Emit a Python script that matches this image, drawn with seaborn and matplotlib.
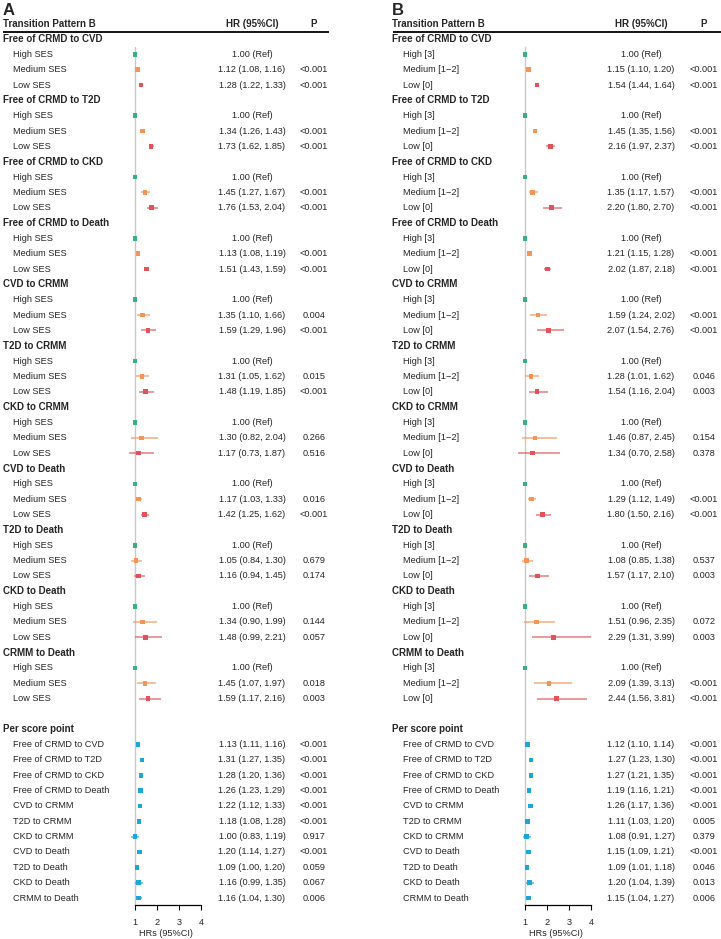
import numpy as np
import pandas as pd
import matplotlib
matplotlib.use("Agg")
import matplotlib.pyplot as plt
import matplotlib.transforms as mtransforms
import seaborn as sns

# ---- data -------------------------------------------------------------
transitions = ["Free of CRMD to CVD", "Free of CRMD to T2D", "Free of CRMD to CKD",
               "Free of CRMD to Death", "CVD to CRMM", "T2D to CRMM", "CKD to CRMM",
               "CVD to Death", "T2D to Death", "CKD to Death", "CRMM to Death"]

levels_a = ["High SES", "Medium SES", "Low SES"]
levels_b = ["High [3]", "Medium [1\u22122]", "Low [0]"]

# Panel A (SES)
a_med_hr = [1.12, 1.34, 1.45, 1.13, 1.35, 1.31, 1.30, 1.17, 1.05, 1.34, 1.45]
a_med_lo = [1.08, 1.26, 1.27, 1.08, 1.10, 1.05, 0.82, 1.03, 0.84, 0.90, 1.07]
a_med_hi = [1.16, 1.43, 1.67, 1.19, 1.66, 1.62, 2.04, 1.33, 1.30, 1.99, 1.97]
a_med_p = ["<0.001", "<0.001", "<0.001", "<0.001", "0.004", "0.015", "0.266",
           "0.016", "0.679", "0.144", "0.018"]
a_low_hr = [1.28, 1.73, 1.76, 1.51, 1.59, 1.48, 1.17, 1.42, 1.16, 1.48, 1.59]
a_low_lo = [1.22, 1.62, 1.53, 1.43, 1.29, 1.19, 0.73, 1.25, 0.94, 0.99, 1.17]
a_low_hi = [1.33, 1.85, 2.04, 1.59, 1.96, 1.85, 1.87, 1.62, 1.45, 2.21, 2.16]
a_low_p = ["<0.001", "<0.001", "<0.001", "<0.001", "<0.001", "<0.001", "0.516",
           "<0.001", "0.174", "0.057", "0.003"]
a_per_hr = [1.13, 1.31, 1.28, 1.26, 1.22, 1.18, 1.00, 1.20, 1.09, 1.16, 1.16]
a_per_lo = [1.11, 1.27, 1.20, 1.23, 1.12, 1.08, 0.83, 1.14, 1.00, 0.99, 1.04]
a_per_hi = [1.16, 1.35, 1.36, 1.29, 1.33, 1.28, 1.19, 1.27, 1.20, 1.35, 1.30]
a_per_p = ["<0.001", "<0.001", "<0.001", "<0.001", "<0.001", "<0.001", "0.917",
           "<0.001", "0.059", "0.067", "0.006"]

# Panel B (score groups)
b_med_hr = [1.15, 1.45, 1.35, 1.21, 1.59, 1.28, 1.46, 1.29, 1.08, 1.51, 2.09]
b_med_lo = [1.10, 1.35, 1.17, 1.15, 1.24, 1.01, 0.87, 1.12, 0.85, 0.96, 1.39]
b_med_hi = [1.20, 1.56, 1.57, 1.28, 2.02, 1.62, 2.45, 1.49, 1.38, 2.35, 3.13]
b_med_p = ["<0.001", "<0.001", "<0.001", "<0.001", "<0.001", "0.046", "0.154",
           "<0.001", "0.537", "0.072", "<0.001"]
b_low_hr = [1.54, 2.16, 2.20, 2.02, 2.07, 1.54, 1.34, 1.80, 1.57, 2.29, 2.44]
b_low_lo = [1.44, 1.97, 1.80, 1.87, 1.54, 1.16, 0.70, 1.50, 1.17, 1.31, 1.56]
b_low_hi = [1.64, 2.37, 2.70, 2.18, 2.76, 2.04, 2.58, 2.16, 2.10, 3.99, 3.81]
b_low_p = ["<0.001", "<0.001", "<0.001", "<0.001", "<0.001", "0.003", "0.378",
           "<0.001", "0.003", "0.003", "<0.001"]
b_per_hr = [1.12, 1.27, 1.27, 1.19, 1.26, 1.11, 1.08, 1.15, 1.09, 1.20, 1.15]
b_per_lo = [1.10, 1.23, 1.21, 1.16, 1.17, 1.03, 0.91, 1.09, 1.01, 1.04, 1.04]
b_per_hi = [1.14, 1.30, 1.35, 1.21, 1.36, 1.20, 1.27, 1.21, 1.18, 1.39, 1.27]
b_per_p = ["<0.001", "<0.001", "<0.001", "<0.001", "<0.001", "0.005", "0.379",
           "<0.001", "0.046", "0.013", "0.006"]

x_ticks = [1, 2, 3, 4]

colors = {"high": "#3aae82", "medium": "#f39557", "low": "#e0535b", "per": "#1ea6d8"}


def build_table(levels, med, low, per):
    """one row per line of the forest table"""
    rows = []
    r = 0
    for i, name in enumerate(transitions):
        rows.append(dict(row=r, label=name, kind="header"))
        r += 1
        rows.append(dict(row=r, label=levels[0], kind="item", grp="high",
                         hr=1.0, lo=np.nan, hi=np.nan, txt="1.00 (Ref)", p=""))
        r += 1
        for grp, lev, (hr, lo, hi, p) in [("medium", levels[1], med), ("low", levels[2], low)]:
            rows.append(dict(row=r, label=lev, kind="item", grp=grp, hr=hr[i], lo=lo[i],
                             hi=hi[i], txt=f"{hr[i]:.2f} ({lo[i]:.2f}, {hi[i]:.2f})", p=p[i]))
            r += 1
    r += 1  # blank line
    rows.append(dict(row=r, label="Per score point", kind="header"))
    r += 1
    hr, lo, hi, p = per
    for i, name in enumerate(transitions):
        rows.append(dict(row=r, label=name, kind="item", grp="per", hr=hr[i], lo=lo[i],
                         hi=hi[i], txt=f"{hr[i]:.2f} ({lo[i]:.2f}, {hi[i]:.2f})", p=p[i]))
        r += 1
    return pd.DataFrame(rows)


df_a = build_table(levels_a,
                   (a_med_hr, a_med_lo, a_med_hi, a_med_p),
                   (a_low_hr, a_low_lo, a_low_hi, a_low_p),
                   (a_per_hr, a_per_lo, a_per_hi, a_per_p))
df_b = build_table(levels_b,
                   (b_med_hr, b_med_lo, b_med_hi, b_med_p),
                   (b_low_hr, b_low_lo, b_low_hi, b_low_p),
                   (b_per_hr, b_per_lo, b_per_hi, b_per_p))

# ---- figure -----------------------------------------------------------
sns.set_theme(style="white")
plt.rcParams["font.family"] = ["Liberation Sans", "DejaVu Sans"]

W, H = 721, 939
fig = plt.figure(figsize=(W / 100, H / 100), dpi=100)

FS = 6.6
FSH = 7.0
last_row = int(df_a["row"].max())
top_px, bot_px = 32, 905
pad = 0.456
px_per_unit = 22
x_min, x_max = 0.5, 4.3


def draw_panel(df, letter, x_head, x_item, x_hr, x_p, line_x0, line_x1, x_one):
    left_px = x_one - (1 - x_min) * px_per_unit
    width_px = (x_max - x_min) * px_per_unit
    ax = fig.add_axes([left_px / W, 1 - bot_px / H, width_px / W, (bot_px - top_px) / H])
    ax.set_xlim(x_min, x_max)
    ax.set_ylim(last_row + pad, -pad)

    # reference line at HR = 1
    ax.axvline(1, ymin=0, ymax=1 - 1.0 / (last_row + 2 * pad), color="#c8c8c8",
               lw=1.0, zorder=0)

    pts = df[df["kind"] == "item"]
    ci = pts.dropna(subset=["lo"])
    ax.hlines(ci["row"], ci["lo"], ci["hi"], colors=[colors[g] for g in ci["grp"]],
              lw=1.3, alpha=0.65, zorder=1)
    sns.scatterplot(data=pts, x="hr", y="row", hue="grp", palette=colors, marker="s",
                    s=11, linewidth=0, legend=False, ax=ax, zorder=2)

    # axis styling
    for side in ["top", "right", "left"]:
        ax.spines[side].set_visible(False)
    ax.spines["bottom"].set_bounds(1, 4)
    ax.spines["bottom"].set_color("black")
    ax.spines["bottom"].set_linewidth(0.9)
    ax.set_yticks([])
    ax.set_xticks(x_ticks)
    ax.set_xticklabels([str(t) for t in x_ticks], fontsize=FS)
    ax.tick_params(axis="x", direction="out", length=3.5, width=0.8, color="black",
                   pad=6, bottom=True)
    ax.set_xlabel("HRs (95%CI)", fontsize=FS, labelpad=1.5)
    ax.set_ylabel("")

    # table text
    tr = mtransforms.blended_transform_factory(fig.transFigure, ax.transData)
    ax.text(x_head / W, -1, "Transition Pattern B", transform=tr, fontsize=FSH,
            fontweight="bold", va="center", ha="left")
    ax.text(x_hr / W, -1, "HR (95%CI)", transform=tr, fontsize=FSH,
            fontweight="bold", va="center", ha="center")
    ax.text(x_p / W, -1, "P", transform=tr, fontsize=FSH,
            fontweight="bold", va="center", ha="center")
    ax.plot([line_x0 / W, line_x1 / W], [-0.47, -0.47], transform=tr, color="black",
            lw=1.3, clip_on=False, solid_capstyle="butt")

    for _, r in df.iterrows():
        if r["kind"] == "header":
            ax.text(x_head / W, r["row"], r["label"], transform=tr, fontsize=FSH,
                    fontweight="bold", va="center", ha="left")
        else:
            ax.text(x_item / W, r["row"], r["label"], transform=tr, fontsize=FS,
                    va="center", ha="left")
            ax.text(x_hr / W, r["row"], r["txt"], transform=tr, fontsize=FS,
                    va="center", ha="center")
            ax.text(x_p / W, r["row"], r["p"], transform=tr, fontsize=FS,
                    va="center", ha="center")

    fig.text((x_head) / W, 1 - 3 / H, letter, fontsize=12, fontweight="bold",
             va="top", ha="left")
    return ax


draw_panel(df_a, "A", 3, 13, 252, 314, 3, 329, 135)
draw_panel(df_b, "B", 392, 403, 641, 704, 393, 721, 525)

fig.savefig("out.png", dpi=100)
